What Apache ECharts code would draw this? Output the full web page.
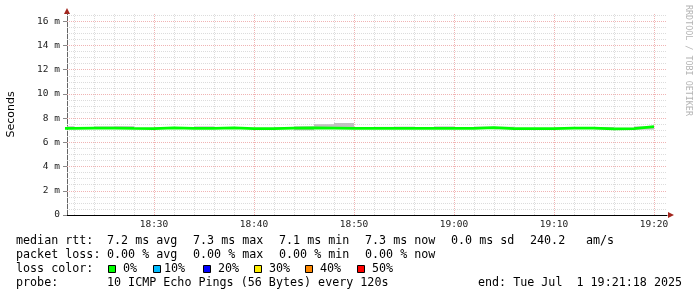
<!DOCTYPE html>
<html>
<head>
<meta charset="utf-8">
<script src="https://cdn.jsdelivr.net/npm/echarts@6/dist/echarts.min.js"></script>
<style>
html, body { margin: 0; padding: 0; background: #fff; }
#main { width: 697px; height: 297px; }
</style>
</head>
<body>
<div id="main"></div>
<script>
// smokeping style latency graph, 2 minute bins (start time of each bin)
var binStart = ['18:20','18:22','18:24','18:26','18:28','18:30','18:32','18:34','18:36','18:38',
                '18:40','18:42','18:44','18:46','18:48','18:50','18:52','18:54','18:56','18:58',
                '19:00','19:02','19:04','19:06','19:08','19:10','19:12','19:14','19:16','19:18'];
// median rtt in ms
var median = [7.16, 7.18, 7.17, 7.15, 7.14, 7.19, 7.16, 7.15, 7.19, 7.14,
              7.14, 7.18, 7.19, 7.18, 7.16, 7.15, 7.15, 7.15, 7.15, 7.15,
              7.16, 7.21, 7.13, 7.13, 7.13, 7.18, 7.18, 7.12, 7.14, 7.29];
// smoke (spread of the pings) in ms
var smokeLow  = [7.10, 7.12, 7.12, 7.10, 7.10, 7.12, 7.10, 7.10, 7.12, 7.10,
                 7.10, 7.12, 7.00, 7.12, 7.10, 7.10, 7.10, 7.10, 7.10, 7.10,
                 7.10, 7.12, 7.08, 7.08, 7.08, 7.12, 7.12, 7.08, 7.10, 7.05];
var smokeHigh = [7.33, 7.24, 7.32, 7.34, 7.20, 7.24, 7.20, 7.32, 7.24, 7.20,
                 7.20, 7.24, 7.33, 7.50, 7.60, 7.20, 7.28, 7.30, 7.20, 7.32,
                 7.20, 7.30, 7.29, 7.18, 7.18, 7.22, 7.22, 7.27, 7.20, 7.32];
var timeLabels = ['18:30','18:40','18:50','19:00','19:10','19:20'];
var yTicks = [0, 2, 4, 6, 8, 10, 12, 14, 16];
var viewStart = '18:21:18', viewEnd = '19:21:18';
var binSec = 120;
var yMax = 16.6;

var lossLabels = ['0%', '10%', '20%', '30%', '40%', '50%'];
var lossColors = ['#00ff00', '#00bbff', '#0000ff', '#ffee00', '#ff8800', '#ff0000'];

function toSec(s) {
  var p = s.split(':');
  return (+p[0]) * 3600 + (+p[1]) * 60 + (p[2] ? +p[2] : 0);
}
function hhmm(v) {
  var h = Math.floor(v / 3600), m = Math.floor((v % 3600) / 60);
  return (h < 10 ? '0' : '') + h + ':' + (m < 10 ? '0' : '') + m;
}
// step line: two points per bin (start and end)
var medianData = [];
binStart.forEach(function (s, i) {
  medianData.push([toSec(s), median[i]]);
  medianData.push([toSec(s) + binSec, median[i]]);
});
// smoke: one rect per bin
var smokeData = binStart.map(function (s, i) {
  return [toSec(s), toSec(s) + binSec, smokeLow[i], smokeHigh[i]];
});

// grid lines (rrdtool style dotted)
function minorStyle() { return { type: [1, 1], color: '#dcdcdc', width: 1 }; }
function majorStyle() { return { type: [1, 1], color: '#f0b4b4', width: 1 }; }
var gridLines = [];
for (var t = toSec('18:22'); t < toSec(viewEnd); t += binSec) {
  gridLines.push({ xAxis: t, lineStyle: (t % 600 === 0) ? majorStyle() : minorStyle() });
}
for (var y = 0.5; y < yMax; y += 0.5) {
  gridLines.push({ yAxis: y, lineStyle: (y % 2 === 0) ? majorStyle() : minorStyle() });
}

var mono = 'DejaVu Sans Mono';
var graphics = [];
function txt(x, y, s) {
  graphics.push({ type: 'text', x: x, y: y, silent: true,
    style: { text: s, fontFamily: mono, fontSize: 11.7, fill: '#000', align: 'left', verticalAlign: 'middle' } });
}
txt(16, 241, 'median rtt:');
txt(107, 241, '7.2 ms avg');
txt(193, 241, '7.3 ms max');
txt(279, 241, '7.1 ms min');
txt(365, 241, '7.3 ms now');
txt(451, 241, '0.0 ms sd');
txt(530, 241, '240.2');
txt(586, 241, 'am/s');
txt(16, 255, 'packet loss:');
txt(107, 255, '0.00 % avg');
txt(193, 255, '0.00 % max');
txt(279, 255, '0.00 % min');
txt(365, 255, '0.00 % now');
txt(16, 269, 'loss color:');
var boxX = [108, 153, 203, 254, 305, 357];
var labX = [123, 164, 218, 269, 320, 372];
for (var k = 0; k < lossLabels.length; k++) {
  graphics.push({ type: 'rect', silent: true, shape: { x: boxX[k] + 0.5, y: 265.5, width: 7, height: 7 },
    style: { fill: lossColors[k], stroke: '#000', lineWidth: 1 } });
  txt(labX[k], 269, lossLabels[k]);
}
txt(16, 283, 'probe:');
txt(107, 283, '10 ICMP Echo Pings (56 Bytes) every 120s');
txt(478, 283, 'end: Tue Jul  1 19:21:18 2025');

// axis arrows
graphics.push({ type: 'polygon', silent: true, shape: { points: [[64, 14], [70, 14], [67, 8]] }, style: { fill: '#a3261e' } });
graphics.push({ type: 'polygon', silent: true, shape: { points: [[668, 212], [668, 218], [674, 215]] }, style: { fill: '#a3261e' } });
// watermark
graphics.push({ type: 'text', x: 688, y: 5, rotation: -Math.PI / 2, silent: true,
  style: { text: 'RRDTOOL / TOBI OETIKER', fontFamily: mono, fontSize: 8.4, fill: '#b4b4b4', align: 'left', verticalAlign: 'middle' } });

var myChart = echarts.init(document.getElementById('main'), null, { renderer: 'canvas' });
myChart.setOption({
  animation: false,
  backgroundColor: '#fff',
  grid: { left: 67, top: 14, width: 600, height: 201, outerBoundsMode: 'none', containLabel: false },
  xAxis: {
    type: 'value',
    min: toSec(viewStart),
    max: toSec(viewEnd),
    splitLine: { show: false },
    axisTick: { show: false },
    axisLine: { lineStyle: { color: '#000', width: 1 } },
    axisLabel: {
      customValues: timeLabels.map(toSec),
      formatter: hhmm,
      fontFamily: mono, fontSize: 9.5, color: '#222', margin: 5
    }
  },
  yAxis: {
    type: 'value',
    min: 0,
    max: yMax,
    name: 'Seconds',
    nameLocation: 'middle',
    nameRotate: 90,
    nameGap: 50,
    nameTextStyle: { fontFamily: 'DejaVu Sans', fontSize: 11, color: '#000' },
    splitLine: { show: false },
    axisLine: { show: true, lineStyle: { color: '#666', width: 1 } },
    axisTick: { show: true, customValues: yTicks, length: 4, lineStyle: { color: '#888' } },
    axisLabel: {
      customValues: yTicks,
      formatter: function (v) { return v === 0 ? '0' : v + ' m'; },
      fontFamily: mono, fontSize: 9.5, color: '#222', margin: 7
    }
  },
  series: [
    {
      name: 'smoke', type: 'custom', z: 2,
      data: smokeData,
      renderItem: function (params, api) {
        var p0 = api.coord([api.value(0), api.value(3)]);
        var p1 = api.coord([api.value(1), api.value(2)]);
        var rect = echarts.graphic.clipRectByRect(
          { x: p0[0], y: p0[1], width: p1[0] - p0[0], height: p1[1] - p0[1] },
          { x: params.coordSys.x, y: params.coordSys.y, width: params.coordSys.width, height: params.coordSys.height });
        return rect && { type: 'rect', shape: rect, style: { fill: '#c0c0c0' } };
      },
      markLine: { silent: true, symbol: ['none', 'none'], label: { show: false }, z: 1,
        emphasis: { disabled: true }, data: gridLines }
    },
    {
      name: 'median', type: 'line',
      data: medianData, showSymbol: false, z: 3,
      lineStyle: { width: 2.8, color: lossColors[0] }
    }
  ],
  graphic: graphics
});
</script>
</body>
</html>
